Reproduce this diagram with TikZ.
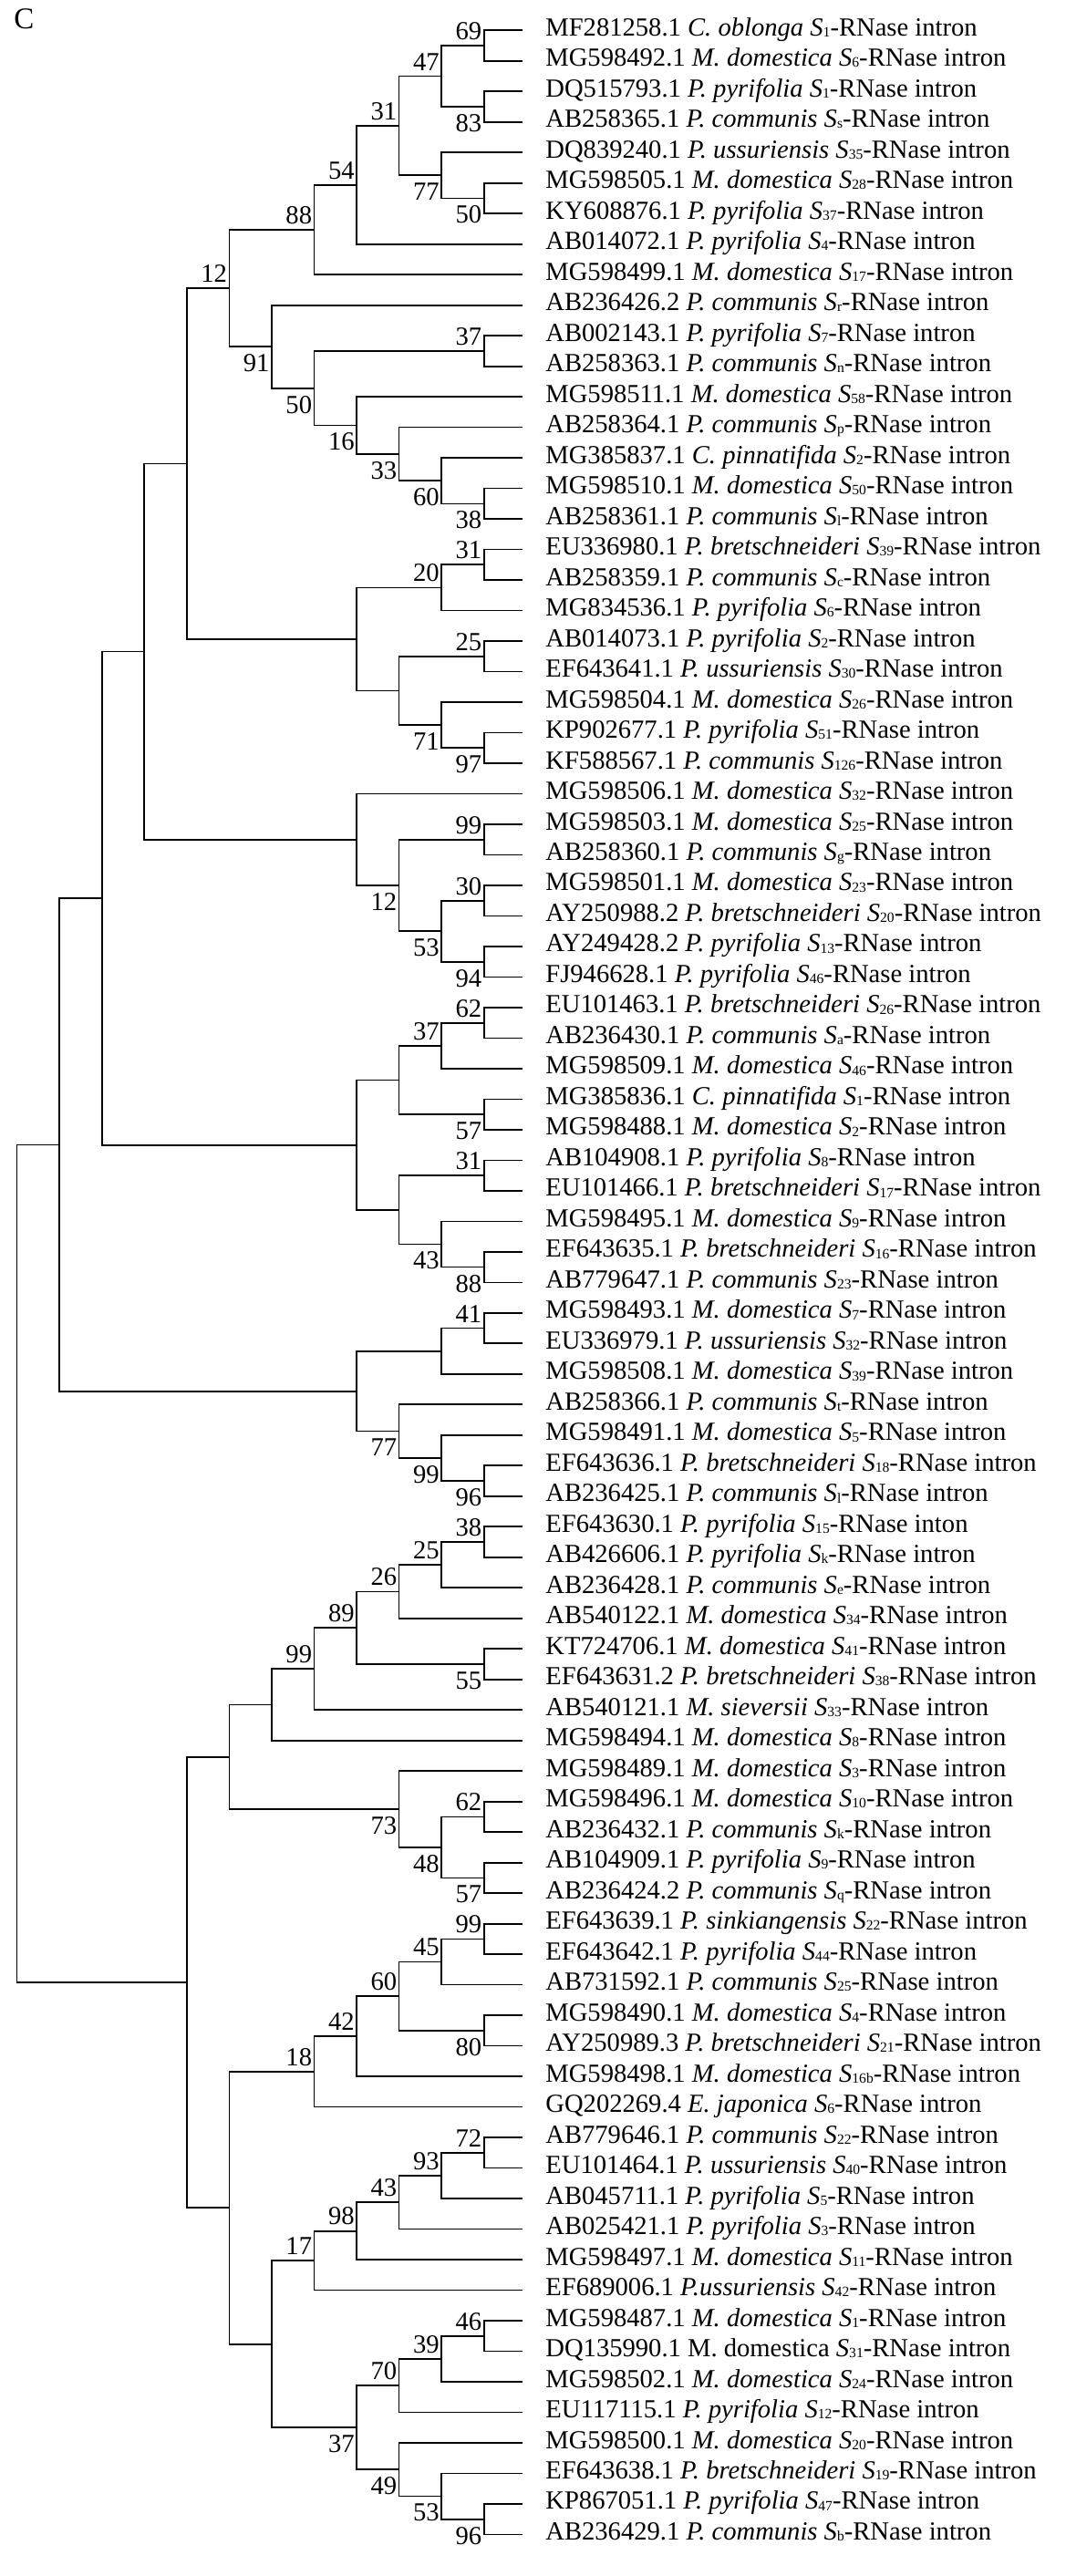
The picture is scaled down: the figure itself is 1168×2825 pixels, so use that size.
\documentclass[tikz,border=0pt]{standalone}
\usepackage{fontspec}
\setmainfont{Liberation Serif}
\usetikzlibrary{calc}
\newcommand\Salle[1]{\textit{S}\raisebox{-0.6pt}{\fontsize{7.8}{8}\selectfont #1}}
\newcommand\spc[1]{\textit{#1}}
\newcommand\nd[4]{%
  \path let \p1=(#3), \p2=(#4), \p3=(X#2) in coordinate (#1) at (\x3, {0.5*\y1+0.5*\y2});
  \draw[br] (#3) -| (#1) |- (#4);}
\newcommand\bsu[2]{\node[bs, anchor=south east] (b#1) at ([xshift=-1pt, yshift=3pt]#1) {#2};}
\newcommand\bsd[2]{\node[bs, anchor=north east] (b#1) at ([xshift=-1pt, yshift=-4pt]#1) {#2};}
\newcommand\lab[2]{\node[lf] (t#1) at ([xshift=12.5pt, yshift=-3pt]l#1) {#2};}
\begin{document}
\begin{tikzpicture}[x=0.5pt, y=-0.5pt,
  br/.style={line width=0.85pt, draw=black},
  bs/.style={inner sep=0pt, font=\fontsize{14.3}{16}\selectfont},
  lf/.style={anchor=base west, inner sep=0pt, font=\fontsize{14.3}{16}\selectfont}]
\useasboundingbox (0,0) rectangle (1168,2825);
\foreach \k in {0,...,11} \coordinate (X\k) at ({18.6+46.55*\k}, 0);
\foreach \i in {1,...,83} \coordinate (l\i) at (573, {33.26+(\i-1)*33.49});
\node[anchor=base west, inner sep=0pt, font=\fontsize{16.5}{18}\selectfont] (title) at (15, 31.7) {C};
% upper clades
\nd{A1}{11}{l1}{l2}   \bsu{A1}{69}
\nd{A2}{11}{l3}{l4}   \bsd{A2}{83}
\nd{A3}{10}{A1}{A2}   \bsu{A3}{47}
\nd{A4}{11}{l6}{l7}   \bsd{A4}{50}
\nd{A5}{10}{l5}{A4}   \bsd{A5}{77}
\nd{A6}{9}{A3}{A5}    \bsu{A6}{31}
\nd{A7}{8}{A6}{l8}    \bsu{A7}{54}
\nd{A8}{7}{A7}{l9}    \bsu{A8}{88}
\nd{B1}{11}{l11}{l12} \bsu{B1}{37}
\nd{B2}{11}{l16}{l17} \bsd{B2}{38}
\nd{B3}{10}{l15}{B2}  \bsd{B3}{60}
\nd{B4}{9}{l14}{B3}   \bsd{B4}{33}
\nd{B5}{8}{l13}{B4}   \bsd{B5}{16}
\nd{B6}{7}{B1}{B5}    \bsd{B6}{50}
\nd{B7}{6}{l10}{B6}   \bsd{B7}{91}
\nd{C1}{5}{A8}{B7}    \bsu{C1}{12}
\nd{D1}{11}{l18}{l19} \bsu{D1}{31}
\nd{D2}{10}{D1}{l20}  \bsu{D2}{20}
\nd{D3}{11}{l21}{l22} \bsu{D3}{25}
\nd{D4}{11}{l24}{l25} \bsd{D4}{97}
\nd{D5}{10}{l23}{D4}  \bsd{D5}{71}
\nd{D6}{9}{D3}{D5}
\nd{D7}{8}{D2}{D6}
\nd{E}{4}{C1}{D7}
\nd{F3}{11}{l27}{l28} \bsu{F3}{99}
\nd{F6}{11}{l29}{l30} \bsu{F6}{30}
\nd{F7}{11}{l31}{l32} \bsd{F7}{94}
\nd{F5}{10}{F6}{F7}   \bsd{F5}{53}
\nd{F2}{9}{F3}{F5}    \bsd{F2}{12}
\nd{F}{8}{l26}{F2}
\nd{G}{3}{E}{F}
\nd{H1}{11}{l33}{l34} \bsu{H1}{62}
\nd{H2}{10}{H1}{l35}  \bsu{H2}{37}
\nd{H3}{11}{l36}{l37} \bsd{H3}{57}
\nd{H4}{9}{H2}{H3}
\nd{H5}{11}{l38}{l39} \bsu{H5}{31}
\nd{H6}{11}{l41}{l42} \bsd{H6}{88}
\nd{H7}{10}{l40}{H6}  \bsd{H7}{43}
\nd{H8}{9}{H5}{H7}
\nd{H9}{8}{H4}{H8}
\nd{I}{2}{G}{H9}
\nd{J3}{11}{l43}{l44} \bsu{J3}{41}
\nd{J1}{10}{J3}{l45}
\nd{J5}{11}{l48}{l49} \bsd{J5}{96}
\nd{J4}{10}{l47}{J5}  \bsd{J4}{99}
\nd{J2}{9}{l46}{J4}   \bsd{J2}{77}
\nd{J}{8}{J1}{J2}
\nd{K}{1}{I}{J}
% lower clades
\nd{P1}{11}{l50}{l51} \bsu{P1}{38}
\nd{P2}{10}{P1}{l52}  \bsu{P2}{25}
\nd{P3}{9}{P2}{l53}   \bsu{P3}{26}
\nd{P4}{11}{l54}{l55} \bsd{P4}{55}
\nd{P5}{8}{P3}{P4}    \bsu{P5}{89}
\nd{P6}{7}{P5}{l56}   \bsu{P6}{99}
\nd{P7}{6}{P6}{l57}
\nd{Q1}{11}{l59}{l60} \bsu{Q1}{62}
\nd{Q2}{11}{l61}{l62} \bsd{Q2}{57}
\nd{Q3}{10}{Q1}{Q2}   \bsd{Q3}{48}
\nd{Q4}{9}{l58}{Q3}   \bsd{Q4}{73}
\nd{M}{5}{P7}{Q4}
\nd{R1}{11}{l63}{l64} \bsu{R1}{99}
\nd{R2}{10}{R1}{l65}  \bsu{R2}{45}
\nd{R3}{11}{l66}{l67} \bsd{R3}{80}
\nd{R4}{9}{R2}{R3}    \bsu{R4}{60}
\nd{R5}{8}{R4}{l68}   \bsu{R5}{42}
\nd{R6}{7}{R5}{l69}   \bsu{R6}{18}
\nd{S1}{11}{l70}{l71} \bsu{S1}{72}
\nd{S2}{10}{S1}{l72}  \bsu{S2}{93}
\nd{S3}{9}{S2}{l73}   \bsu{S3}{43}
\nd{S4}{8}{S3}{l74}   \bsu{S4}{98}
\nd{S5}{7}{S4}{l75}   \bsu{S5}{17}
\nd{T1}{11}{l76}{l77} \bsu{T1}{46}
\nd{T2}{10}{T1}{l78}  \bsu{T2}{39}
\nd{T3}{9}{T2}{l79}   \bsu{T3}{70}
\nd{T4}{11}{l82}{l83} \bsd{T4}{96}
\nd{T5}{10}{l81}{T4}  \bsd{T5}{53}
\nd{T6}{9}{l80}{T5}   \bsd{T6}{49}
\nd{T7}{8}{T3}{T6}    \bsd{T7}{37}
\nd{U}{6}{S5}{T7}
\nd{N}{5}{R6}{U}
\nd{L}{4}{M}{N}
\nd{Rt}{0}{K}{L}
% leaf labels
\lab{1}{MF281258.1 \spc{C. oblonga} \Salle{1}-RNase intron}
\lab{2}{MG598492.1 \spc{M. domestica} \Salle{6}-RNase intron}
\lab{3}{DQ515793.1 \spc{P. pyrifolia} \Salle{1}-RNase intron}
\lab{4}{AB258365.1 \spc{P. communis} \Salle{s}-RNase intron}
\lab{5}{DQ839240.1 \spc{P. ussuriensis} \Salle{35}-RNase intron}
\lab{6}{MG598505.1 \spc{M. domestica} \Salle{28}-RNase intron}
\lab{7}{KY608876.1 \spc{P. pyrifolia} \Salle{37}-RNase intron}
\lab{8}{AB014072.1 \spc{P. pyrifolia} \Salle{4}-RNase intron}
\lab{9}{MG598499.1 \spc{M. domestica} \Salle{17}-RNase intron}
\lab{10}{AB236426.2 \spc{P. communis} \Salle{r}-RNase intron}
\lab{11}{AB002143.1 \spc{P. pyrifolia} \Salle{7}-RNase intron}
\lab{12}{AB258363.1 \spc{P. communis} \Salle{n}-RNase intron}
\lab{13}{MG598511.1 \spc{M. domestica} \Salle{58}-RNase intron}
\lab{14}{AB258364.1 \spc{P. communis} \Salle{p}-RNase intron}
\lab{15}{MG385837.1 \spc{C. pinnatifida} \Salle{2}-RNase intron}
\lab{16}{MG598510.1 \spc{M. domestica} \Salle{50}-RNase intron}
\lab{17}{AB258361.1 \spc{P. communis} \Salle{l}-RNase intron}
\lab{18}{EU336980.1 \spc{P. bretschneideri} \Salle{39}-RNase intron}
\lab{19}{AB258359.1 \spc{P. communis} \Salle{c}-RNase intron}
\lab{20}{MG834536.1 \spc{P. pyrifolia} \Salle{6}-RNase intron}
\lab{21}{AB014073.1 \spc{P. pyrifolia} \Salle{2}-RNase intron}
\lab{22}{EF643641.1 \spc{P. ussuriensis} \Salle{30}-RNase intron}
\lab{23}{MG598504.1 \spc{M. domestica} \Salle{26}-RNase intron}
\lab{24}{KP902677.1 \spc{P. pyrifolia} \Salle{51}-RNase intron}
\lab{25}{KF588567.1 \spc{P. communis} \Salle{126}-RNase intron}
\lab{26}{MG598506.1 \spc{M. domestica} \Salle{32}-RNase intron}
\lab{27}{MG598503.1 \spc{M. domestica} \Salle{25}-RNase intron}
\lab{28}{AB258360.1 \spc{P. communis} \Salle{g}-RNase intron}
\lab{29}{MG598501.1 \spc{M. domestica} \Salle{23}-RNase intron}
\lab{30}{AY250988.2 \spc{P. bretschneideri} \Salle{20}-RNase intron}
\lab{31}{AY249428.2 \spc{P. pyrifolia} \Salle{13}-RNase intron}
\lab{32}{FJ946628.1 \spc{P. pyrifolia} \Salle{46}-RNase intron}
\lab{33}{EU101463.1 \spc{P. bretschneideri} \Salle{26}-RNase intron}
\lab{34}{AB236430.1 \spc{P. communis} \Salle{a}-RNase intron}
\lab{35}{MG598509.1 \spc{M. domestica} \Salle{46}-RNase intron}
\lab{36}{MG385836.1 \spc{C. pinnatifida} \Salle{1}-RNase intron}
\lab{37}{MG598488.1 \spc{M. domestica} \Salle{2}-RNase intron}
\lab{38}{AB104908.1 \spc{P. pyrifolia} \Salle{8}-RNase intron}
\lab{39}{EU101466.1 \spc{P. bretschneideri} \Salle{17}-RNase intron}
\lab{40}{MG598495.1 \spc{M. domestica} \Salle{9}-RNase intron}
\lab{41}{EF643635.1 \spc{P. bretschneideri} \Salle{16}-RNase intron}
\lab{42}{AB779647.1 \spc{P. communis} \Salle{23}-RNase intron}
\lab{43}{MG598493.1 \spc{M. domestica} \Salle{7}-RNase intron}
\lab{44}{EU336979.1 \spc{P. ussuriensis} \Salle{32}-RNase intron}
\lab{45}{MG598508.1 \spc{M. domestica} \Salle{39}-RNase intron}
\lab{46}{AB258366.1 \spc{P. communis} \Salle{t}-RNase intron}
\lab{47}{MG598491.1 \spc{M. domestica} \Salle{5}-RNase intron}
\lab{48}{EF643636.1 \spc{P. bretschneideri} \Salle{18}-RNase intron}
\lab{49}{AB236425.1 \spc{P. communis} \Salle{l}-RNase intron}
\lab{50}{EF643630.1 \spc{P. pyrifolia} \Salle{15}-RNase inton}
\lab{51}{AB426606.1 \spc{P. pyrifolia} \Salle{k}-RNase intron}
\lab{52}{AB236428.1 \spc{P. communis} \Salle{e}-RNase intron}
\lab{53}{AB540122.1 \spc{M. domestica} \Salle{34}-RNase intron}
\lab{54}{KT724706.1 \spc{M. domestica} \Salle{41}-RNase intron}
\lab{55}{EF643631.2 \spc{P. bretschneideri} \Salle{38}-RNase intron}
\lab{56}{AB540121.1 \spc{M. sieversii} \Salle{33}-RNase intron}
\lab{57}{MG598494.1 \spc{M. domestica} \Salle{8}-RNase intron}
\lab{58}{MG598489.1 \spc{M. domestica} \Salle{3}-RNase intron}
\lab{59}{MG598496.1 \spc{M. domestica} \Salle{10}-RNase intron}
\lab{60}{AB236432.1 \spc{P. communis} \Salle{k}-RNase intron}
\lab{61}{AB104909.1 \spc{P. pyrifolia} \Salle{9}-RNase intron}
\lab{62}{AB236424.2 \spc{P. communis} \Salle{q}-RNase intron}
\lab{63}{EF643639.1 \spc{P. sinkiangensis} \Salle{22}-RNase intron}
\lab{64}{EF643642.1 \spc{P. pyrifolia} \Salle{44}-RNase intron}
\lab{65}{AB731592.1 \spc{P. communis} \Salle{25}-RNase intron}
\lab{66}{MG598490.1 \spc{M. domestica} \Salle{4}-RNase intron}
\lab{67}{AY250989.3 \spc{P. bretschneideri} \Salle{21}-RNase intron}
\lab{68}{MG598498.1 \spc{M. domestica} \Salle{16b}-RNase intron}
\lab{69}{GQ202269.4 \spc{E. japonica} \Salle{6}-RNase intron}
\lab{70}{AB779646.1 \spc{P. communis} \Salle{22}-RNase intron}
\lab{71}{EU101464.1 \spc{P. ussuriensis} \Salle{40}-RNase intron}
\lab{72}{AB045711.1 \spc{P. pyrifolia} \Salle{5}-RNase intron}
\lab{73}{AB025421.1 \spc{P. pyrifolia} \Salle{3}-RNase intron}
\lab{74}{MG598497.1 \spc{M. domestica} \Salle{11}-RNase intron}
\lab{75}{EF689006.1 \spc{P.ussuriensis} \Salle{42}-RNase intron}
\lab{76}{MG598487.1 \spc{M. domestica} \Salle{1}-RNase intron}
\lab{77}{DQ135990.1 M. domestica \Salle{31}-RNase intron}
\lab{78}{MG598502.1 \spc{M. domestica} \Salle{24}-RNase intron}
\lab{79}{EU117115.1 \spc{P. pyrifolia} \Salle{12}-RNase intron}
\lab{80}{MG598500.1 \spc{M. domestica} \Salle{20}-RNase intron}
\lab{81}{EF643638.1 \spc{P. bretschneideri} \Salle{19}-RNase intron}
\lab{82}{KP867051.1 \spc{P. pyrifolia} \Salle{47}-RNase intron}
\lab{83}{AB236429.1 \spc{P. communis} \Salle{b}-RNase intron}
\end{tikzpicture}
\end{document}
